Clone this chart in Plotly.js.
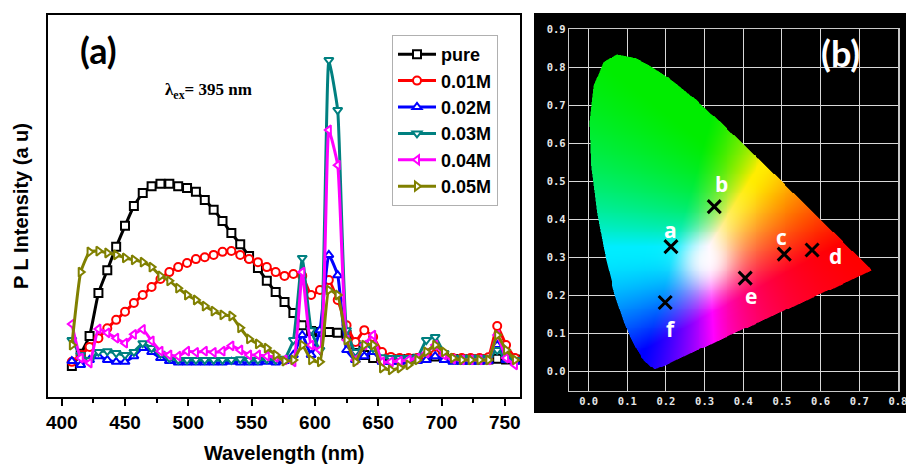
<!DOCTYPE html>
<html>
<head>
<meta charset="utf-8">
<script src="https://cdn.plot.ly/plotly-3.0.1.min.js"></script>
<style>html,body{margin:0;padding:0;background:#fff;}#chart{width:906px;height:465px;}</style>
</head>
<body>
<div id="chart"></div>
<script>
// ---------- Panel (a): PL spectra ----------
const wavelength = [408,415,422,429,436,443,450,457,464,471,478,485,492,499,506,513,520,527,534,541,548,555,562,569,576,583,590,597,604,611,618,625,632,639,646,653,660,667,674,681,688,695,702,709,716,723,730,737,744,751,758];
const seriesNames = ["pure","0.01M","0.02M","0.03M","0.04M","0.05M"];
const pure  = [8.1,11.3,16,27.2,33.2,39.3,44.8,50,53.4,55.2,55.8,55.8,55.2,54.7,53.7,51.6,49,46.1,42.9,40,36.9,33.8,30.4,27.5,24.9,22,18.8,17.3,17,17,16.8,16.2,13.6,11,10.2,9.9,9.8,9.8,9.9,10,10.2,10.6,10.2,9.9,9.8,9.8,9.8,9.8,10,9.8,9.8];
const m001  = [9.2,11,13.1,15.4,18,20.2,22.3,24.6,26.7,28.8,30.9,32.7,34,35.1,36.1,36.6,37.2,38,38.2,37.2,36.1,35.3,34,32.7,31.7,32.2,31.7,26.7,28,30.6,25.4,18.8,14.4,17.5,15.7,11.8,10.5,10.2,10.2,10.2,10.6,11.2,10.6,10.2,10.2,10.2,10.2,10.4,18.6,13.6,10.2];
const m002  = [9.4,8.4,9.7,10.7,9.7,9.2,9.2,10.7,12.8,11.8,10.2,9.4,9,9,9,9,9,9,9.2,9,9,9,9.2,9,9.4,11,16.2,11,17.5,37.2,31.9,12.3,9.7,10.7,11.8,9.2,9.2,9.2,9.4,9.4,9.7,10.7,9.7,9.2,9.2,9.2,9.2,9.4,13.6,9.7,9.2];
const m003  = [14.9,11,9.7,11.8,12,11.5,11,11.8,14.1,12.8,11.3,10.2,9.7,9.7,9.7,9.7,9.7,9.7,9.7,9.9,9.7,9.7,9.9,9.7,10,14.9,36.4,17.5,12.3,88.2,75.1,17.5,11.8,13.6,12.8,10.4,10.2,10.2,10.2,10.4,14.9,15.7,11.5,10.2,10.2,10.2,10.2,10.2,12.3,10.2,9.7];
const m004  = [19.1,10.2,8.9,17.8,16.8,15.4,14.1,16.4,17.7,14.7,12,11,10.7,12,11.7,12,11.7,12,13.4,12.3,11,11,10.7,10.4,9.7,9.2,32.7,13.6,12.3,69.9,60.7,14.9,9.7,13.6,16.2,9.2,9.2,9.4,9.7,10.2,11.5,13.6,11,9.9,9.7,9.7,9.7,9.7,16.2,10.2,8.4];
const m005  = [13.6,32.7,38,38.2,37.7,37.2,36.4,35.9,35.3,34,31.7,30.4,28.5,26.7,25.4,23.8,22.5,21.5,21.2,18.1,15.2,13.9,12.8,11,9.4,9.7,13.6,9.7,9.2,28,26.7,14.9,9.2,13.6,13.6,7.6,7.1,7.6,8.4,9.7,11.8,13.6,11.8,10.2,9.7,9.7,9.7,9.7,16.2,12.3,9.7];
const xTicks = [400,450,500,550,600,650,700,750];

// ---------- Panel (b): CIE 1931 chromaticity ----------
const locusX = [0.1741,0.1740,0.1738,0.1736,0.1733,0.1730,0.1726,0.1721,0.1714,0.1703,0.1689,0.1669,0.1644,0.1611,0.1566,0.1510,0.1440,0.1355,0.1241,0.1096,0.0913,0.0687,0.0454,0.0235,0.0082,0.0039,0.0139,0.0389,0.0743,0.1142,0.1547,0.1929,0.2296,0.2658,0.3016,0.3373,0.3731,0.4087,0.4441,0.4788,0.5125,0.5448,0.5752,0.6029,0.6270,0.6482,0.6658,0.6801,0.6915,0.7006,0.7079,0.7140,0.7190,0.7230,0.7260,0.7283,0.7300,0.7311,0.7320,0.7327,0.7334,0.7340,0.7344,0.7346,0.7347];
const locusY = [0.0050,0.0050,0.0049,0.0049,0.0048,0.0048,0.0048,0.0048,0.0051,0.0058,0.0069,0.0086,0.0109,0.0138,0.0177,0.0227,0.0297,0.0399,0.0578,0.0868,0.1327,0.2007,0.2950,0.4127,0.5384,0.6548,0.7502,0.8120,0.8338,0.8262,0.8059,0.7816,0.7543,0.7243,0.6923,0.6589,0.6245,0.5896,0.5547,0.5202,0.4866,0.4544,0.4242,0.3965,0.3725,0.3514,0.3340,0.3197,0.3083,0.2993,0.2920,0.2859,0.2809,0.2770,0.2740,0.2717,0.2700,0.2689,0.2680,0.2673,0.2666,0.2660,0.2656,0.2654,0.2653];
const sampleLabels = ["a","b","c","d","e","f"];
const sampleX = [0.213,0.325,0.506,0.578,0.405,0.198];
const sampleY = [0.329,0.434,0.309,0.320,0.246,0.182];
const labelShiftX = [0,7,-3,23,6,6];
const labelShiftY = [17,23,17,-6,-18,-27];

const colors = ["#000000","#ff0000","#0000ff","#008080","#ff00ff","#808000"];
const symbols = ["square","circle","triangle-up","triangle-down","triangle-left","triangle-right"];
const seriesVals = [pure,m001,m002,m003,m004,m005];

const W = 906, H = 465;
const px = v => v / W, py = v => 1 - v / H;

const traces = seriesVals.map((vals, i) => ({
  type: "scatter", mode: "lines+markers", name: seriesNames[i],
  x: wavelength, y: vals, xaxis: "x", yaxis: "y",
  line: {color: colors[i], width: 3, shape: "spline", smoothing: 0.4},
  marker: {symbol: symbols[i], size: 8, color: "#ffffff", line: {color: colors[i], width: 2}},
  hoverinfo: "skip"
}));

// chromaticity image
function insideLocus(x, y) {
  let inside = false;
  const n = locusX.length;
  for (let i = 0, j = n - 1; i < n; j = i++) {
    const xi = locusX[i], yi = locusY[i], xj = locusX[j], yj = locusY[j];
    if (((yi > y) !== (yj > y)) && (x < (xj - xi) * (y - yi) / (yj - yi) + xi)) inside = !inside;
  }
  return inside;
}
function xyColor(x, y) {
  const X = x / y, Y = 1, Z = (1 - x - y) / y;
  let r = 3.2406 * X - 1.5372 * Y - 0.4986 * Z;
  let g = -0.9689 * X + 1.8758 * Y + 0.0415 * Z;
  let b = 0.0557 * X - 0.2040 * Y + 1.0570 * Z;
  r = Math.max(r, 0); g = Math.max(g, 0); b = Math.max(b, 0);
  const m = Math.max(r, g, b) || 1;
  let R = Math.pow(r / m, 1.1), G = 1 - Math.pow(1 - g / m, 2.2), B = Math.pow(b / m, 1.1);
  G *= 0.93;
  // soft white glow around the achromatic region
  const d2 = (x - 0.305) * (x - 0.305) + (y - 0.29) * (y - 0.29);
  const w = 0.85 * Math.exp(-d2 / (2 * 0.045 * 0.045));
  R = R * (1 - w) + w; G = G * (1 - w) + w; B = B * (1 - w) + w;
  return [R * 255, G * 255, B * 255];
}
const dxy = 0.0025, xStart = -0.05, yStart = -0.05;
const nCols = Math.round((0.8 - xStart) / dxy), nRows = Math.round((0.9 - yStart) / dxy);
const img = [];
for (let r = 0; r < nRows; r++) {
  const row = [];
  const yc = yStart + (r + 0.5) * dxy;
  for (let c = 0; c < nCols; c++) {
    const xc = xStart + (c + 0.5) * dxy;
    let cov = 0;
    for (let sy = 0; sy < 2; sy++) for (let sx = 0; sx < 2; sx++) {
      if (insideLocus(xc + (sx - 0.5) * dxy * 0.5, yc + (sy - 0.5) * dxy * 0.5)) cov++;
    }
    if (cov === 0) { row.push([0, 0, 0, 0]); continue; }
    const col = xyColor(xc, Math.max(yc, 0.003));
    row.push([col[0], col[1], col[2], cov / 4]);
  }
  img.push(row);
}
traces.push({
  type: "image", z: img, colormodel: "rgba",
  x0: xStart + dxy / 2, dx: dxy, y0: yStart + dxy / 2, dy: dxy,
  xaxis: "x2", yaxis: "y2", hoverinfo: "skip", showlegend: false
});
traces.push({
  type: "scatter", mode: "markers", x: sampleX, y: sampleY, xaxis: "x2", yaxis: "y2",
  marker: {symbol: "x-thin", size: 13, line: {color: "#000000", width: 3}},
  showlegend: false, hoverinfo: "skip"
});

const annotations = [
  {text: "(a)", xref: "paper", yref: "paper", x: px(98), y: py(50), xanchor: "center", yanchor: "middle", showarrow: false,
   font: {family: "Lato, 'Open Sans', sans-serif", size: 36, weight: "bold", color: "#000"}},
  {text: "λ<sub>ex</sub>= 395 nm", xref: "paper", yref: "paper", x: px(208), y: py(91), xanchor: "center", yanchor: "middle", showarrow: false,
   font: {family: "'Liberation Serif', serif", size: 17, weight: "bold", color: "#000"}},
  {text: "(b)", xref: "paper", yref: "paper", x: px(840), y: py(53), xanchor: "center", yanchor: "middle", showarrow: false,
   font: {family: "Lato, 'Open Sans', sans-serif", size: 36, weight: "bold", color: "#fff"}}
];
sampleLabels.forEach((t, i) => annotations.push({
  text: t, xref: "x2", yref: "y2", x: sampleX[i], y: sampleY[i], showarrow: false,
  xanchor: "center", yanchor: "middle",
  xshift: labelShiftX[i], yshift: labelShiftY[i],
  font: {family: "'Open Sans', sans-serif", size: 21, weight: "bold", color: "#ffffff"}
}));

const axFontA = {family: "'Liberation Sans', Arial, sans-serif", size: 19, weight: "bold", color: "#000"};
const gridCol = "#d8d8d8";
const tickFontB = {family: "'DejaVu Sans Mono', monospace", size: 10.5, weight: "bold", color: "#e6e6e6"};
const layout = {
  width: W, height: H, margin: {l: 0, r: 0, t: 0, b: 0},
  paper_bgcolor: "#ffffff", plot_bgcolor: "rgba(0,0,0,0)",
  showlegend: true,
  legend: {x: px(392), y: py(35), xanchor: "left", yanchor: "top",
    bgcolor: "#ffffff", bordercolor: "#b0b0b0", borderwidth: 1, itemwidth: 38,
    tracegroupgap: 0,
    font: {family: "'Liberation Sans', Arial, sans-serif", size: 18, weight: "bold", color: "#000"}},
  xaxis: {domain: [px(48.3), px(520)], range: [389.4, 762], anchor: "y",
    tickvals: xTicks, ticks: "outside", ticklen: 7, tickwidth: 2, tickcolor: "#000",
    minor: {dtick: 25, tick0: 400, ticks: "outside", ticklen: 4, tickwidth: 2, tickcolor: "#000", showgrid: false},
    showgrid: false, zeroline: false, showline: true, mirror: true, linecolor: "#000", linewidth: 2,
    tickfont: axFontA,
    title: {text: "Wavelength (nm)", standoff: 14, font: {family: "'Liberation Sans', Arial, sans-serif", size: 20, weight: "bold", color: "#000"}}},
  yaxis: {domain: [py(397), py(15)], range: [0, 100], anchor: "x",
    showticklabels: false, ticks: "", showgrid: false, zeroline: false,
    showline: true, mirror: true, linecolor: "#000", linewidth: 2,
    title: {text: "P L Intensity (a u)", standoff: 12, font: {family: "'Liberation Sans', Arial, sans-serif", size: 20, weight: "bold", color: "#000"}}},
  xaxis2: {domain: [px(569.3), px(898)], range: [-0.05, 0.8003], anchor: "y2",
    tick0: 0, dtick: 0.1, tickformat: ".1f", ticks: "", showgrid: true, gridcolor: gridCol, gridwidth: 1,
    ticklabeloverflow: "allow",
    zeroline: false, showline: true, mirror: true, linecolor: "#c8c8c8", linewidth: 1.5,
    tickfont: tickFontB},
  yaxis2: {domain: [py(390.7), py(29.3)], range: [-0.05, 0.9003], anchor: "x2", autorange: false,
    scaleanchor: false, ticklabeloverflow: "allow",
    tick0: 0, dtick: 0.1, tickformat: ".1f", ticks: "", showgrid: true, gridcolor: gridCol, gridwidth: 1,
    zeroline: false, showline: true, mirror: true, linecolor: "#c8c8c8", linewidth: 1.5,
    tickfont: tickFontB},
  shapes: [{type: "rect", xref: "paper", yref: "paper", x0: px(534), x1: 1.0, y0: py(413), y1: py(13),
    fillcolor: "#000000", line: {width: 0}, layer: "below"}],
  annotations: annotations
};

Plotly.newPlot("chart", traces, layout, {displayModeBar: false, staticPlot: true});
</script>
</body>
</html>
